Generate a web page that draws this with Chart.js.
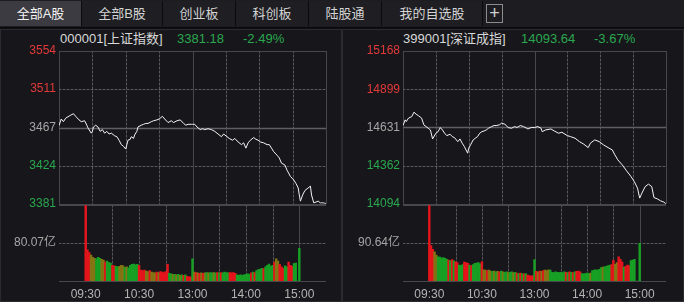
<!DOCTYPE html>
<html>
<head>
<meta charset="utf-8">
<script src="https://cdn.jsdelivr.net/npm/chart.js@4.4.0/dist/chart.umd.min.js"></script>
<style>
  body { margin:0; width:684px; height:302px; overflow:hidden; background:#0f0f12; font-family:"Liberation Sans","Noto Sans CJK SC",sans-serif; position:relative; }
  #tabs { position:absolute; left:0; top:0; width:684px; height:27px; background:#1d1d21; border-bottom:1px solid #0a0a0c; }
  .tab { position:absolute; top:1px; height:25px; line-height:25px; text-align:center; color:#d4d4d4; font-size:13px; background:#1f1f23; border-right:1px solid #0b0b0d; }
  .tab.on { background:#3b3b41; color:#f2f2f2; }
  #plus { position:absolute; left:486px; top:4px; width:15px; height:17px; border:1px solid #8c8c8c; color:#cfcfcf; font-size:18px; line-height:16px; text-align:center; }
  .panel { position:absolute; top:29px; height:273px; background:#17171b; border:1px solid #2a2a2f; box-sizing:border-box; }
  .head { position:absolute; top:31px; font-size:13px; line-height:16px; white-space:nowrap; }
  .name { color:#d8d8d8; }
  .down { color:#2aa84f; }
  canvas { position:absolute; }
</style>
</head>
<body>
<div id="tabs">
  <div class="tab on" style="left:0;width:81px">全部A股</div>
  <div class="tab" style="left:82px;width:80px">全部B股</div>
  <div class="tab" style="left:163px;width:72px">创业板</div>
  <div class="tab" style="left:236px;width:72px">科创板</div>
  <div class="tab" style="left:309px;width:72px">陆股通</div>
  <div class="tab" style="left:382px;width:100px">我的自选股</div>
  <div id="plus">+</div>
</div>
<div class="panel" style="left:0;width:342px"></div>
<div class="panel" style="left:342px;width:342px"></div>

<div class="head name" id="shName" style="left:60px"></div>
<div class="head down" id="shLast" style="left:177px"></div>
<div class="head down" id="shPct" style="left:243px"></div>
<div class="head name" id="szName" style="left:403px"></div>
<div class="head down" id="szLast" style="left:521px"></div>
<div class="head down" id="szPct" style="left:594px"></div>

<canvas id="shPrice" width="341" height="185" style="left:0;top:29px"></canvas>
<canvas id="shVol" width="341" height="107" style="left:0;top:195px"></canvas>
<canvas id="szPrice" width="342" height="185" style="left:342px;top:29px"></canvas>
<canvas id="szVol" width="342" height="107" style="left:342px;top:195px"></canvas>

<script>
// 时间轴
const timeTicks = [0, 60, 120, 180, 240];
const timeLabels = ['09:30', '10:30', '13:00', '14:00', '15:00'];
const gridMinutes = [0, 30, 60, 90, 120, 150, 180, 210, 240];
const solidMinutes = [0, 120, 240];

// 上证指数
const shName = '000001[上证指数]';
const shLast = 3381.18;
const shPct = '-2.49%';
const shTicks = [3381, 3424, 3467, 3511, 3554];
const shMin = [0, 2, 4, 6, 10, 13, 15, 18, 20, 23, 25, 26, 29, 30, 31, 33, 35, 37, 39, 41,
  43, 45, 47, 50, 52, 54, 56, 58, 60, 61, 62, 64, 65, 67, 68, 70, 71, 74, 76, 78,
  80, 83, 85, 88, 90, 93, 95, 98, 101, 103, 106, 109, 112, 114, 116, 119, 120, 122, 124, 127,
  129, 131, 134, 137, 140, 143, 146, 148, 151, 153, 156, 158, 161, 164, 166, 168, 170, 172, 175, 177,
  179, 181, 184, 187, 189, 191, 193, 196, 198, 200, 203, 205, 208, 211, 213, 215, 216, 217, 219, 221,
  223, 226, 227, 229, 231, 233, 235, 238, 240];
const shPrice = [3469.5, 3477, 3474, 3478, 3481, 3483, 3480, 3476, 3474, 3475, 3470, 3467, 3461, 3463, 3468, 3470, 3468, 3463, 3465, 3461,
  3463, 3460, 3461, 3458, 3457, 3453, 3448, 3446, 3443, 3448, 3453, 3454, 3457, 3455, 3459, 3463, 3468, 3470, 3471, 3472,
  3472, 3474, 3475, 3476, 3477, 3480, 3477, 3473, 3475, 3473, 3475, 3476, 3472, 3470, 3471, 3471, 3471, 3471, 3468, 3465,
  3466, 3465, 3466, 3465, 3463, 3460, 3457, 3460, 3457, 3455, 3453, 3455, 3451, 3448, 3450, 3444, 3450, 3453, 3456, 3454,
  3453, 3451, 3450, 3448, 3448, 3444, 3440, 3436, 3433, 3427, 3425, 3419, 3412, 3408, 3404, 3399, 3391, 3384, 3391, 3396,
  3398, 3401, 3391, 3382, 3383, 3384, 3382, 3382, 3381.18];
const shVolMax = 160.14;
// 成交量（亿），每2分钟一根
const shVol = [160.1, 66, 60, 55, 50, 48, 47, 50, 48, 46,
  44, 40, 42, 39, 38, 33, 32, 31, 30, 31,
  33, 32, 29, 30, 28, 33, 35, 36, 34, 35,
  33, 23, 22, 23, 21, 20, 22, 19, 18, 17,
  19, 18, 20, 19, 18, 20, 35, 16, 15, 14,
  14, 13, 14, 12, 13, 12, 13, 10, 9, 9,
  47, 19, 18, 17, 16, 17, 16, 17, 18, 17,
  18, 17, 18, 17, 18, 17, 18, 17, 19, 18,
  17, 18, 17, 18, 16, 13, 12, 13, 12, 13,
  14, 15, 14, 17, 19, 18, 22, 24, 25, 27,
  26, 30, 33, 36, 31, 33, 40, 47, 42, 35,
  30, 27, 32, 30, 40, 33, 31, 37, 38, 0,
  69];
// r 涨 g 跌 o 平/混合
const shDir = ('rrrooogggo' + 'orgggrrggo' + 'oogogggggg' + 'rrrroorooo' + 'rorrrrrggo' +
  'gogogrgrrr' + 'gorororogo' + 'ggogrgrggg' + 'grrrrggggg' + 'gggrgrgggg' +
  'rgggggroor' + 'rrggrrrggg' + 'g').split('');

// 深证成指
const szName = '399001[深证成指]';
const szLast = 14093.64;
const szPct = '-3.67%';
const szTicks = [14094, 14362, 14631, 14899, 15168];
const szMin = [0, 2, 3, 5, 8, 10, 12, 14, 17, 19, 21, 23, 25, 27, 30, 32, 34, 36, 38, 40,
  43, 45, 47, 50, 52, 54, 56, 59, 60, 62, 64, 66, 68, 70, 72, 74, 76, 78, 81, 83,
  85, 88, 90, 93, 96, 99, 102, 104, 107, 110, 114, 117, 120, 123, 126, 127, 130, 135, 138, 142,
  145, 150, 153, 157, 161, 165, 169, 171, 175, 179, 183, 188, 191, 193, 196, 200, 204, 208, 211, 214,
  216, 218, 221, 224, 227, 229, 232, 235, 238, 240];
const szPrice = [14644, 14684, 14672, 14696, 14707, 14738, 14724, 14714, 14696, 14649, 14637, 14625, 14613, 14550, 14590, 14601, 14630, 14613, 14590, 14573,
  14583, 14566, 14559, 14531, 14550, 14520, 14496, 14450, 14485, 14513, 14543, 14555, 14566, 14590, 14601, 14606, 14613, 14625, 14637, 14644,
  14644, 14649, 14661, 14653, 14630, 14625, 14637, 14630, 14644, 14637, 14620, 14630, 14630, 14637, 14625, 14601, 14613, 14620, 14606, 14590,
  14597, 14573, 14566, 14555, 14531, 14513, 14489, 14520, 14543, 14531, 14508, 14485, 14473, 14443, 14403, 14368, 14326, 14286, 14251, 14204,
  14134, 14169, 14215, 14232, 14215, 14138, 14129, 14115, 14106, 14093.64];
const szVolMax = 181.28;
const szVol = [181.3, 85, 76, 70, 62, 58, 57, 55, 56, 54,
  52, 50, 49, 51, 48, 46, 44, 38, 37, 39,
  45, 44, 42, 38, 37, 39, 42, 43, 44, 41,
  46, 27, 26, 25, 26, 24, 23, 24, 22, 23,
  22, 24, 22, 21, 22, 20, 21, 22, 20, 21,
  19, 18, 19, 18, 17, 18, 14, 13, 12, 13,
  51, 23, 22, 24, 23, 25, 26, 25, 27, 26,
  21, 20, 22, 21, 20, 21, 20, 22, 21, 20,
  22, 21, 20, 22, 23, 24, 22, 18, 17, 18,
  19, 18, 19, 25, 26, 27, 26, 28, 32, 33,
  34, 35, 37, 38, 39, 50, 40, 44, 58, 52,
  45, 33, 35, 38, 36, 49, 50, 52, 0, 0,
  90];
const szDir = ('rrrooggggg' + 'grgrgrrggg' + 'rrrgrggggg' + 'rooroogogo' + 'rgoggoggog' +
  'rgrgrgrrrr' + 'grororooog' + 'ggggggggrg' + 'rgrgrrrggg' + 'ggoggggggo' +
  'ggggrroorr' + 'rgrrrggggg' + 'g').split('');

const UP = '#e23a3a', DOWN = '#2aa84f', FLAT = '#a6a6a6';
const barColors = { r: '#e5141b', g: '#17a024', o: '#857414' };
const FONT = { family: '"Liberation Sans","Noto Sans CJK SC",sans-serif', size: 12 };

document.getElementById('shName').textContent = shName;
document.getElementById('shLast').textContent = shLast.toFixed(2);
document.getElementById('shPct').textContent = shPct;
document.getElementById('szName').textContent = szName;
document.getElementById('szLast').textContent = szLast.toFixed(2);
document.getElementById('szPct').textContent = szPct;

// 网格线：实线；点线 = 暗色底线 + 虚线
function stroke(ctx, x1, y1, x2, y2, color, width, dash) {
  ctx.beginPath();
  ctx.setLineDash(dash || []);
  ctx.strokeStyle = color;
  ctx.lineWidth = width || 1;
  ctx.moveTo(x1, y1);
  ctx.lineTo(x2, y2);
  ctx.stroke();
}
function dotted(ctx, x1, y1, x2, y2) {
  stroke(ctx, x1, y1, x2, y2, '#303036', 1);
  stroke(ctx, x1, y1, x2, y2, '#5a5a60', 1, [2, 2]);
}

const gridPlugin = {
  id: 'grid',
  beforeDatasetsDraw(chart, args, opts) {
    const { ctx, chartArea: a, scales: { x, y } } = chart;
    ctx.save();
    gridMinutes.forEach(m => {
      const px = Math.round(x.getPixelForValue(m)) + 0.5;
      if (solidMinutes.includes(m)) stroke(ctx, px, a.top, px, a.bottom, '#47474d');
      else dotted(ctx, px, a.top, px, a.bottom);
    });
    y.ticks.forEach((t, i) => {
      const kind = opts.rows[i];
      const py = Math.round(y.getPixelForValue(t.value)) + 0.5;
      if (kind === 'dot') dotted(ctx, a.left, py, a.right, py);
      else if (kind === 'mid') stroke(ctx, a.left, py, a.right, py, '#5e5e64', 1.5);
      else stroke(ctx, a.left, py, a.right, py, '#47474d');
    });
    ctx.restore();
  }
};

function priceChart(id, mins, prices, ticks, yWidth, padRight) {
  return new Chart(document.getElementById(id), {
    type: 'line',
    data: {
      datasets: [{
        data: mins.map((m, i) => ({ x: m, y: prices[i] })),
        borderColor: '#f4f4f4',
        borderWidth: 1,
        pointRadius: 0,
        tension: 0
      }]
    },
    options: {
      responsive: false,
      animation: false,
      layout: { autoPadding: false, padding: { top: 22, bottom: 10, left: 0, right: padRight } },
      plugins: {
        legend: { display: false },
        tooltip: { enabled: false },
        grid: { rows: ['border', 'dot', 'mid', 'dot', 'border'] }
      },
      scales: {
        x: { type: 'linear', min: 0, max: 240, display: false },
        y: {
          min: ticks[0],
          max: ticks[ticks.length - 1],
          afterBuildTicks: s => { s.ticks = ticks.map(v => ({ value: v })); },
          afterFit: s => { s.width = yWidth; },
          grid: { display: false, drawTicks: false },
          border: { display: false },
          ticks: {
            padding: 3,
            font: FONT,
            color: c => [DOWN, DOWN, FLAT, UP, UP][c.index],
            callback: v => String(v)
          }
        }
      }
    },
    plugins: [gridPlugin]
  });
}

function volumeChart(id, vols, dirs, vmax, yWidth, padRight) {
  return new Chart(document.getElementById(id), {
    type: 'bar',
    data: {
      datasets: [{
        data: vols.map((v, i) => ({ x: i * 2, y: v })),
        backgroundColor: dirs.map(d => barColors[d]),
        barPercentage: 1,
        categoryPercentage: 1,
        borderWidth: 0
      }]
    },
    options: {
      responsive: false,
      animation: false,
      layout: { autoPadding: false, padding: { top: 9, bottom: 0, left: 0, right: padRight } },
      plugins: {
        legend: { display: false },
        tooltip: { enabled: false },
        grid: { rows: ['border', 'dot', 'border'] }
      },
      scales: {
        x: {
          type: 'linear', min: 0, max: 240,
          afterBuildTicks: s => { s.ticks = timeTicks.map(v => ({ value: v })); },
          afterFit: s => { s.height = 21; },
          grid: { display: false, drawTicks: false },
          border: { display: false },
          ticks: {
            padding: 6,
            maxRotation: 0,
            autoSkip: false,
            font: FONT,
            color: '#b4b4b4',
            callback: (v, i) => timeLabels[i]
          }
        },
        y: {
          min: 0,
          max: vmax,
          afterBuildTicks: s => { s.ticks = [0, vmax / 2, vmax].map(v => ({ value: v })); },
          afterFit: s => { s.width = yWidth; },
          grid: { display: false, drawTicks: false },
          border: { display: false },
          ticks: {
            padding: 3,
            font: FONT,
            color: FLAT,
            callback: (v, i) => i === 1 ? v.toFixed(2) + '亿' : ''
          }
        }
      }
    },
    plugins: [gridPlugin]
  });
}

priceChart('shPrice', shMin, shPrice, shTicks, 59, 15);
volumeChart('shVol', shVol, shDir, shVolMax, 59, 15);
priceChart('szPrice', szMin, szPrice, szTicks, 61, 18);
volumeChart('szVol', szVol, szDir, szVolMax, 61, 18);
</script>
</body>
</html>
